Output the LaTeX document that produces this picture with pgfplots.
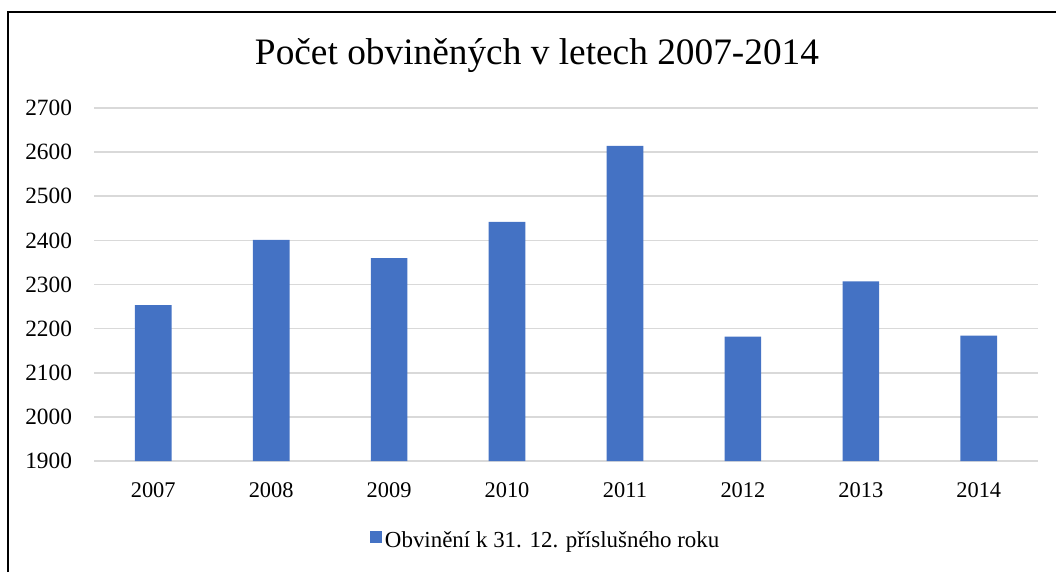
\documentclass[border=0pt]{standalone}
\usepackage{fontspec}
\setmainfont{Liberation Serif}
\usepackage{pgfplots}
\pgfplotsset{compat=1.18}
\definecolor{barblue}{HTML}{4472C4}
\definecolor{gridgray}{HTML}{D9D9D9}
\begin{document}
\begin{tikzpicture}
\path[use as bounding box] (0pt,0pt) rectangle (792pt,429pt);
\draw[line width=1.5pt,black] (6pt,0pt) -- (6pt,420pt) -- (792pt,420pt);
\node[anchor=base,font=\fontsize{28}{32}\selectfont] at (402.75pt,380.25pt) {Počet obviněných v letech 2007-2014};
\begin{axis}[
  at={(70.7pt,83.25pt)}, anchor=south west,
  scale only axis, width=707.6pt, height=264.75pt,
  xmin=-0.5, xmax=7.5, ymin=1900, ymax=2700,
  ytick={1900,2000,2100,2200,2300,2400,2500,2600,2700},
  yticklabels={1900,2000,2100,2200,2300,2400,2500,2600,2700},
  xtick=data,
  xticklabels={2007,2008,2009,2010,2011,2012,2013,2014},
  ymajorgrids, grid style={color=gridgray, line width=1.2pt},
  axis line style={draw=none},
  major tick length=0pt,
  tick label style={font=\fontsize{16.8}{19}\selectfont, inner sep=0pt},
  yticklabel style={anchor=east, xshift=-16.5pt, font=\fontsize{17.5}{20}\selectfont},
  xticklabel style={anchor=north, yshift=-15.75pt},
  ybar, bar width=27.5pt,
  legend style={at={(0.479,-0.2266)}, anchor=center, draw=none, fill=none,
    font=\fontsize{17.2}{20}\selectfont, inner sep=0pt,
    /tikz/every even column/.append style={column sep=2pt}},
  legend image code/.code={\fill[barblue] (0pt,-1.5pt) rectangle (9pt,7.5pt);},
]
\addplot[fill=barblue, draw=none] coordinates {
  (0,2253) (1,2401) (2,2360) (3,2442) (4,2614) (5,2182) (6,2307) (7,2184)
};
\addlegendentry{Obvinění k 31. 12. příslušného roku}
\end{axis}
\end{tikzpicture}
\end{document}
